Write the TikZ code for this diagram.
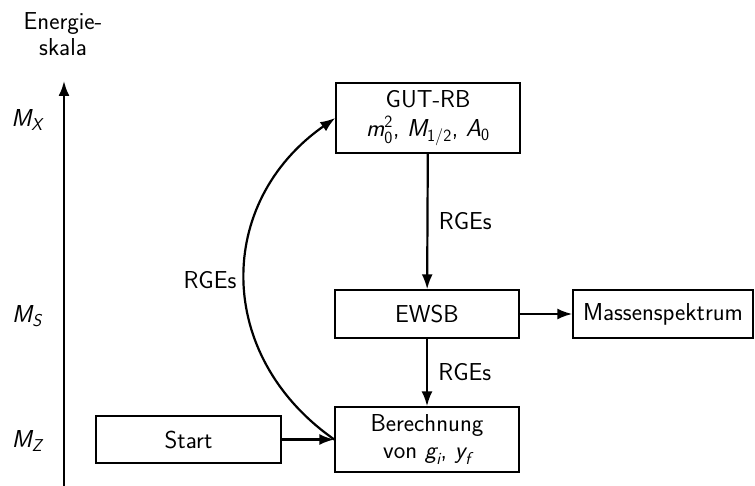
\documentclass[tikz,border=0pt]{standalone}
\usepackage{amsmath}
\usetikzlibrary{arrows.meta}
% slanted sans letters for the scale symbols and parameters
\newcommand{\sv}[1]{\text{\slshape #1}}
\begin{document}
\begin{tikzpicture}[x=1pt,y=-1pt,
  font=\fontsize{24.5}{29}\selectfont\sffamily,
  box/.style={draw,line width=1.4pt,minimum width=184pt,inner sep=0pt,align=center},
  flow/.style={line width=2.2pt,-{Latex[length=15pt,width=11pt]}},
  scalelabel/.style={anchor=center}]
\useasboundingbox (0,0) rectangle (755,486);

% energy axis
\node[align=center] (axtitle) at (63,34) {Energie-\\[-3pt]skala};
\coordinate (axbot) at (64,490);
\coordinate (axtop) at (64,81);
\draw[flow] (axbot) -- (axtop);
\node[scalelabel] (mx) at (27,120) {$\sv{M}_{\sv{X}}$};
\node[scalelabel] (ms) at (27,316) {$\sv{M}_{\sv{S}}$};
\node[scalelabel] (mz) at (27,441) {$\sv{M}_{\sv{Z}}$};

% boxes
\node[box,minimum height=70pt] (gut) at (428,118)
  {GUT-RB\\[0pt]$\sv{m}_{\text{0}}^{\text{2}}$, $\sv{M}_{\text{1/2}}$, $\sv{A}_{\text{0}}$};
\node[box,minimum height=48pt] (ewsb) at (427,314) {EWSB};
\node[box,minimum height=48pt,minimum width=180pt] (spec) at (663,314) {Massenspektrum};
\node[box,minimum height=65pt] (calc) at (427,439.5)
  {Berechnung\\[-2pt]von $\sv{g}_{\sv{i}}$, $\sv{y}_{\sv{f}}$};
\node[box,minimum height=47pt,minimum width=185pt] (start) at (188.5,439.5) {Start};

% connectors
\draw[flow] (gut) -- node[right=7pt] (rg1) {RGEs} (ewsb);
\draw[flow] (ewsb) -- node[right=7pt] (rg2) {RGEs} (calc);
\draw[flow] (ewsb) -- (spec);
\draw[flow] (start) -- (calc);
\draw[flow] (calc.west) .. controls +(-120,-84) and +(-120,84) .. (gut.west);
\node (rg3) at (210,280) {RGEs};
\end{tikzpicture}
\end{document}
